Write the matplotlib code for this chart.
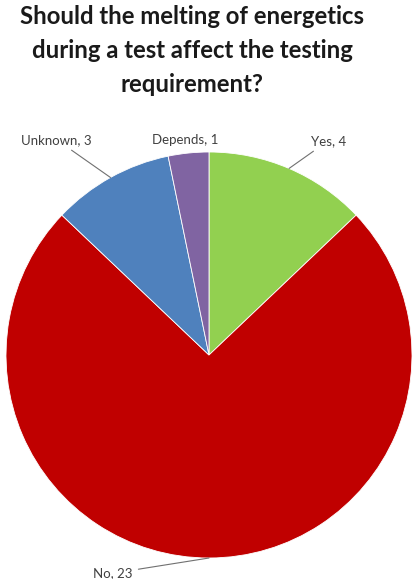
import matplotlib
matplotlib.use('Agg')
import matplotlib.pyplot as plt
import numpy as np

plt.rcParams['font.family'] = ['Lato', 'DejaVu Sans']

labels = ['Yes', 'No', 'Unknown', 'Depends']
counts = [4, 23, 3, 1]
colors = ['#92D050', '#C00000', '#4F81BD', '#8064A2']

title = 'Should the melting of energetics\nduring a test affect the testing\nrequirement?'

fig = plt.figure(figsize=(4.13, 5.79), dpi=100)
ax = fig.add_axes([6 / 413, 21 / 579, 406 / 413, 406 / 579])

wedges, _ = ax.pie(counts, colors=colors, startangle=90, counterclock=False,
                   radius=1, wedgeprops=dict(linewidth=0.6, edgecolor='white'))
ax.set_xlim(-1, 1)
ax.set_ylim(-1, 1)
ax.set_aspect('equal')
ax.axis('off')

# label spots (data coords), ha
spots = {
    'Yes': ((0.50, 1.055), 'left'),
    'No': ((-0.375, -1.075), 'right'),
    'Unknown': ((-0.576, 1.06), 'right'),
    'Depends': ((-0.118, 1.06), 'center'),
}

total = sum(counts)
start = 90.0
for lab, n in zip(labels, counts):
    span = n / total * 360
    mid = np.radians(start - span / 2)
    start -= span
    px, py = np.cos(mid), np.sin(mid)
    (tx, ty), ha = spots[lab]
    txt = '%s, %d' % (lab, n)
    if lab == 'Depends':
        ax.text(tx, ty, txt, ha=ha, va='center', fontsize=9.5, color='#404040')
    else:
        ax.annotate(txt, xy=(px, py), xytext=(tx, ty), ha=ha, va='center',
                    fontsize=9.5, color='#404040',
                    arrowprops=dict(arrowstyle='-', color='#707070', lw=0.8,
                                    shrinkA=2, shrinkB=0))

fig.text(0.465, 0.992, title, ha='center', va='top', fontsize=17.2,
         fontweight='bold', color='#1a1a1a', linespacing=1.6)

fig.savefig('out.png', dpi=100)
